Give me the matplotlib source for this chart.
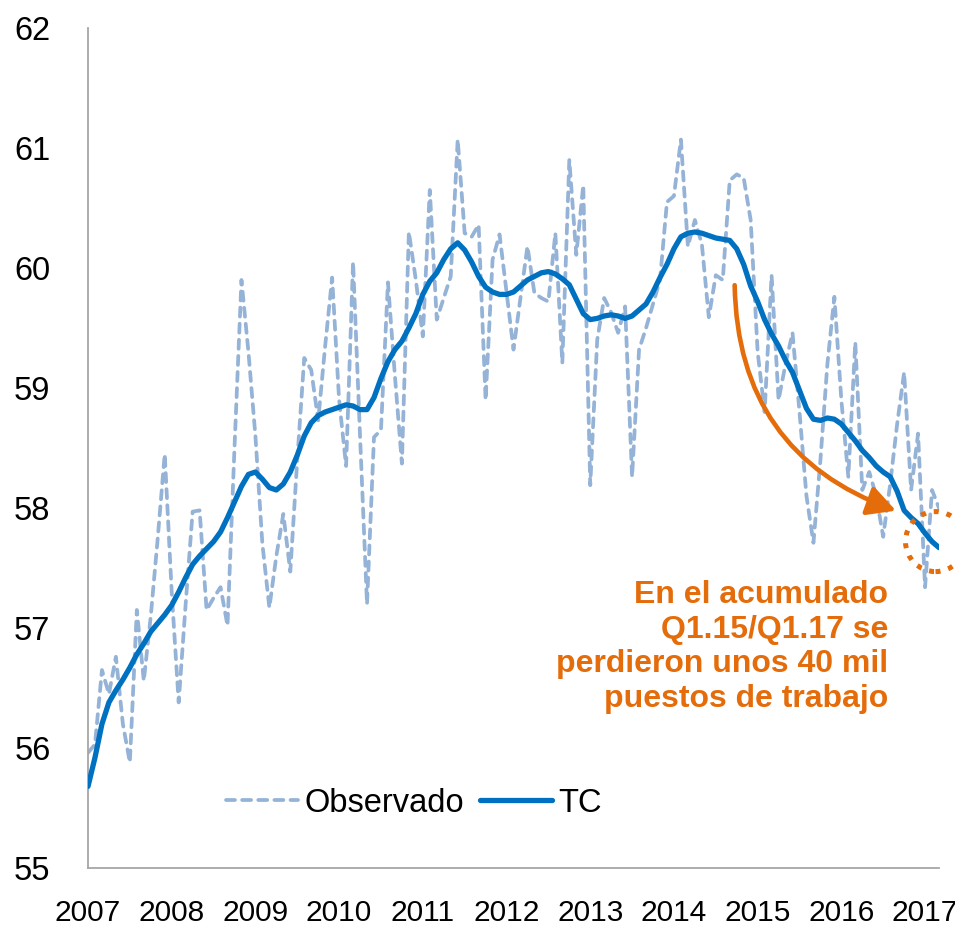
import numpy as np
import matplotlib
matplotlib.use('Agg')
import matplotlib.pyplot as plt
from matplotlib.patches import FancyArrowPatch, Ellipse

plt.rcParams['font.family'] = ['Liberation Sans', 'DejaVu Sans']

# Monthly data, Jan 2007 .. Mar 2017
years = ['2007', '2008', '2009', '2010', '2011', '2012', '2013', '2014', '2015', '2016', '2017']

observado = [
    55.96, 56.03, 56.65, 56.45, 56.76, 56.20, 55.88, 57.15, 56.56, 57.10, 57.75, 58.45,  # 2007
    57.30, 56.38, 57.20, 57.97, 57.98, 57.15, 57.25, 57.34, 57.02, 58.50, 59.90, 59.30,  # 2008
    58.60, 57.70, 57.17, 57.60, 57.95, 57.47, 58.40, 59.25, 59.15, 58.73, 59.35, 59.92,  # 2009
    58.90, 58.35, 60.05, 58.60, 57.20, 58.59, 58.65, 59.88, 59.10, 58.37, 60.30, 59.90,  # 2010
    59.43, 60.65, 59.57, 59.75, 59.93, 61.07, 60.29, 60.26, 60.36, 58.90, 60.07, 60.28,  # 2011
    59.80, 59.32, 59.75, 60.18, 59.79, 59.75, 59.72, 60.29, 59.21, 60.90, 60.11, 60.69,  # 2012
    58.19, 59.40, 59.75, 59.63, 59.46, 59.68, 58.26, 59.32, 59.50, 59.70, 59.90, 60.55,  # 2013
    60.60, 61.07, 60.18, 60.40, 60.20, 59.59, 59.94, 59.90, 60.73, 60.78, 60.75, 60.40,  # 2014
    59.30, 58.80, 59.94, 58.90, 59.20, 59.46, 58.80, 58.10, 57.71, 58.40, 59.20, 59.76,  # 2015
    58.90, 58.26, 59.38, 58.15, 58.30, 58.10, 57.76, 58.20, 58.70, 59.13, 58.15, 58.62,  # 2016
    57.34, 58.15, 58.00,                                                                  # 2017
]

tc = [
    55.68, 55.92, 56.20, 56.38, 56.48, 56.57, 56.67, 56.78, 56.87, 56.97, 57.04, 57.11,  # 2007
    57.19, 57.30, 57.42, 57.53, 57.60, 57.66, 57.72, 57.80, 57.92, 58.05, 58.18, 58.28,  # 2008
    58.30, 58.24, 58.17, 58.15, 58.20, 58.30, 58.44, 58.60, 58.71, 58.77, 58.80, 58.82,  # 2009
    58.84, 58.86, 58.85, 58.82, 58.82, 58.92, 59.08, 59.22, 59.32, 59.39, 59.50, 59.62,  # 2010
    59.78, 59.89, 59.96, 60.07, 60.16, 60.21, 60.15, 60.05, 59.93, 59.84, 59.80, 59.78,  # 2011
    59.78, 59.80, 59.85, 59.90, 59.93, 59.96, 59.97, 59.95, 59.91, 59.86, 59.74, 59.62,  # 2012
    59.57, 59.58, 59.60, 59.61, 59.60, 59.58, 59.60, 59.65, 59.70, 59.80, 59.92, 60.03,  # 2013
    60.16, 60.26, 60.29, 60.30, 60.29, 60.27, 60.25, 60.24, 60.23, 60.16, 60.03, 59.85,  # 2014
    59.72, 59.57, 59.45, 59.35, 59.23, 59.13, 58.98, 58.83, 58.74, 58.73, 58.75, 58.74,  # 2015
    58.70, 58.63, 58.56, 58.48, 58.42, 58.35, 58.30, 58.26, 58.14, 57.98, 57.92, 57.87,  # 2016
    57.79, 57.72, 57.67,                                                                  # 2017
]

nota = 'En el acumulado\nQ1.15/Q1.17 se\nperdieron unos 40 mil\npuestos de trabajo'

naranja = '#E46C0A'
months = np.arange(len(tc))

fig = plt.figure(figsize=(9.55, 9.27), dpi=100)
ax = fig.add_axes([88 / 955, 1 - 868 / 927, 851 / 955, 840 / 927])

ax.plot(months, observado, color='#95B3D7', lw=2.7, linestyle=(0, (2.4, 1.9)),
        dash_capstyle='round', label='Observado', zorder=2)
ax.plot(months, tc, color='#0070C0', lw=3.8, solid_capstyle='round',
        solid_joinstyle='round', label='TC', zorder=3)

ax.set_xlim(0, len(tc) - 1)
ax.set_ylim(55, 62)
ax.set_xticks(np.arange(0, len(tc), 12))
ax.set_xticklabels(years)
ax.set_yticks(np.arange(55, 63, 1))

for s in ['top', 'right']:
    ax.spines[s].set_visible(False)
for s in ['left', 'bottom']:
    ax.spines[s].set_color('#A6A6A6')
    ax.spines[s].set_linewidth(1.3)
ax.tick_params(axis='y', length=0, pad=27, labelsize=23.5)
ax.tick_params(axis='x', length=0, pad=22, labelsize=21.5)

# curved arrow and dotted circle
arrow = FancyArrowPatch((92.7, 59.88), (116.2, 57.97), connectionstyle='arc3,rad=0.35',
                        arrowstyle='-|>,head_length=17,head_width=9', color=naranja,
                        lw=3.3, mutation_scale=1, zorder=4)
ax.add_patch(arrow)
circ = Ellipse((121.5, 57.72), 8.6, 0.5, fill=False, edgecolor=naranja, lw=3.6,
               linestyle=(0, (1, 1.6)), clip_on=False, zorder=4)
ax.add_patch(circ)

ax.text(114.7, 57.4, nota, ha='right', va='top', color=naranja, fontsize=23,
        fontweight='bold', linespacing=1.2)

ax.legend(loc='center', bbox_to_anchor=(0.383, 0.077), ncol=2, frameon=False,
          fontsize=23.5, handlelength=2.2, handletextpad=0.2, columnspacing=0.5)

plt.savefig('out.png', dpi=100)
